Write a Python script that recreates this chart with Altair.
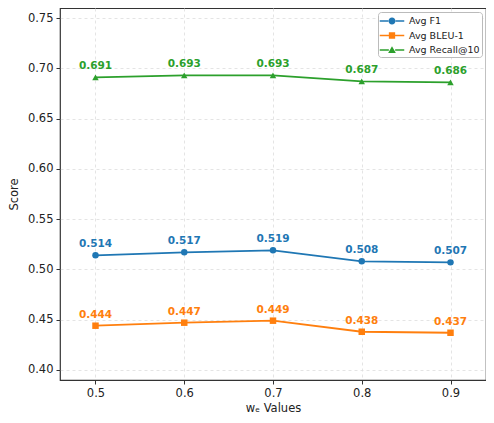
import altair as alt
import pandas as pd

x_vals = [0.5, 0.6, 0.7, 0.8, 0.9]
series_names = ["Avg F1", "Avg BLEU-1", "Avg Recall@10"]
f1 = [0.514, 0.517, 0.519, 0.508, 0.507]
bleu1 = [0.444, 0.447, 0.449, 0.438, 0.437]
recall10 = [0.691, 0.693, 0.693, 0.687, 0.686]
colors = ["#1f77b4", "#ff7f0e", "#2ca02c"]
shapes = ["circle", "square", "triangle-up"]

rows = []
for name, vals in zip(series_names, [f1, bleu1, recall10]):
    for x, v in zip(x_vals, vals):
        rows.append({"w": x, "value": v, "series": name, "label": f"{v:.3f}"})
df = pd.DataFrame(rows)

# legend symbols: a line with the marker in the middle
seg = "M-1.75,-0.11 L-0.45,-0.11 L-0.45,0.11 L-1.75,0.11 Z M0.45,-0.11 L1.75,-0.11 L1.75,0.11 L0.45,0.11 Z "
leg_paths = [
    seg + "M-0.5,0 A0.5,0.5 0 1,0 0.5,0 A0.5,0.5 0 1,0 -0.5,0 Z",
    seg + "M-0.45,-0.45 L0.45,-0.45 L0.45,0.45 L-0.45,0.45 Z",
    seg + "M0,-0.55 L0.55,0.42 L-0.55,0.42 Z",
]

base = alt.Chart(df).encode(
    x=alt.X("w:Q", scale=alt.Scale(domain=[0.46, 0.94], nice=False, zero=False),
            axis=alt.Axis(values=x_vals, format=".1f", title="wₑ Values")),
    y=alt.Y("value:Q", scale=alt.Scale(domain=[0.39, 0.76], nice=False, zero=False),
            axis=alt.Axis(values=[0.40, 0.45, 0.50, 0.55, 0.60, 0.65, 0.70, 0.75],
                          format=".2f", title="Score")),
)

leg_kwargs = dict(
    title=None, orient="top-right", offset=4, symbolSize=196, symbolOpacity=1,
    symbolStrokeWidth=0, symbolOffset=5, labelFontSize=9.5, labelOffset=10,
    padding=2, strokeColor="#bbbbbb", fillColor="white", cornerRadius=3,
    rowPadding=2.5, labelColor="#222222",
)
legend_layer = base.mark_point(filled=True, opacity=0, size=1).encode(
    color=alt.Color("series:N", scale=alt.Scale(domain=series_names, range=colors),
                    legend=alt.Legend(**leg_kwargs)),
    shape=alt.Shape("series:N", scale=alt.Scale(domain=series_names, range=leg_paths),
                    legend=alt.Legend(**leg_kwargs)),
)

layers = []
for name, col, shp in zip(series_names, colors, shapes):
    sub = base.transform_filter(alt.datum.series == name)
    layers.append(sub.mark_line(strokeWidth=1.8, color=col))
    layers.append(sub.mark_point(shape=shp, filled=True, size=42, opacity=1, color=col))
    layers.append(sub.mark_text(dy=-11, fontWeight="bold", fontSize=10.5, color=col)
                  .encode(text="label:N"))

chart = alt.layer(*layers, legend_layer).properties(
    width=426, height=372,
    autosize=alt.AutoSizeParams(type="none"),
    padding={"left": 52, "top": 0, "right": 0, "bottom": 35},
).configure(font="DejaVu Sans").configure_view(
    stroke="#333333", strokeWidth=1.2
).configure_axis(
    domain=False, grid=True, gridColor="#dddddd", gridDash=[3, 3], gridWidth=0.8,
    tickColor="#333333", tickSize=4, labelFontSize=11.5, labelColor="#222222",
    titleFontSize=11.5, titleFontWeight="normal", titleColor="#222222", labelPadding=3,
).configure_axisY(titlePadding=8).configure_axisX(titlePadding=4)

chart.save("out.html", embed_options={"renderer": "svg", "actions": False})
